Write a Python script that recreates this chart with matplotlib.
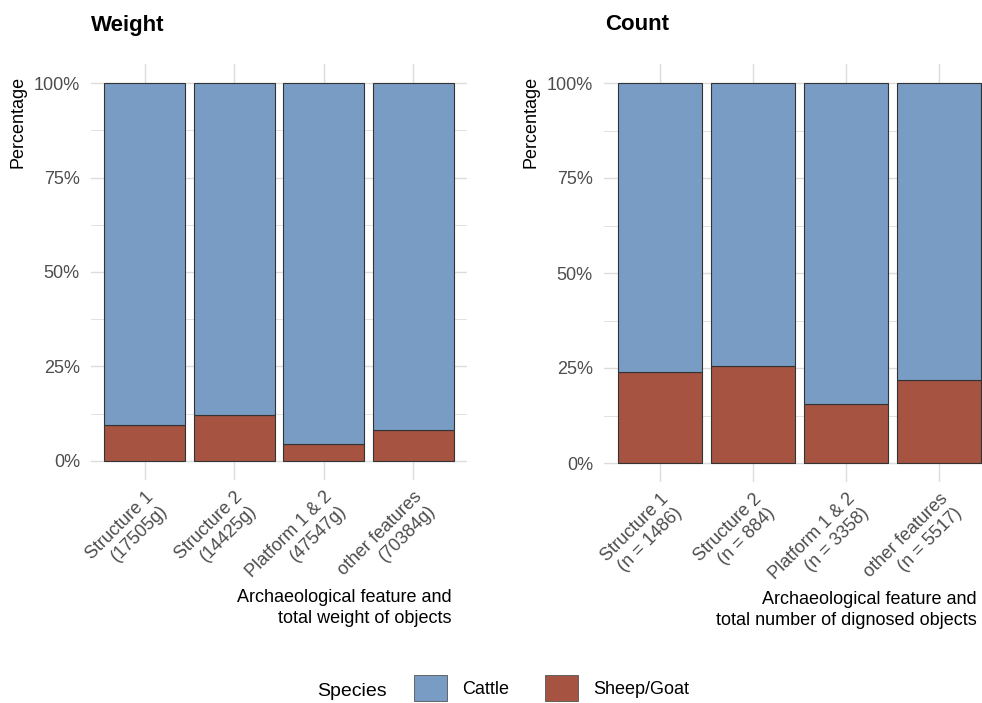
import numpy as np
import matplotlib.pyplot as plt
from matplotlib.patches import Patch

plt.rcParams['font.family'] = ['Liberation Sans Narrow', 'Liberation Sans', 'DejaVu Sans']

features = ['Structure 1', 'Structure 2', 'Platform 1 & 2', 'other features']
weights_g = [17505, 14425, 47547, 70384]
counts_n = [1486, 884, 3358, 5517]

# share of each species (%), weight of bones and number of identified bones
weight_sheep = [9.5, 12.2, 4.4, 8.1]
weight_cattle = [90.5, 87.8, 95.6, 91.9]
count_sheep = [24.0, 25.6, 15.5, 21.9]
count_cattle = [76.0, 74.4, 84.5, 78.1]

species = ['Cattle', 'Sheep/Goat']
colors = {'Cattle': '#789CC3', 'Sheep/Goat': '#A65341'}
edge = '#333333'
grid_col = '#DCDCDC'
tick_col = '#4D4D4D'

W, H = 982, 703
fig = plt.figure(figsize=(W / 100, H / 100), dpi=100)


def fx(px):
    return px / W


def fy(py):
    return 1 - py / H


def panel(x0, x1, y_zero, y_full):
    unit = y_zero - y_full
    top = y_full - 0.05 * unit
    bot = y_zero + 0.05 * unit
    return fig.add_axes([fx(x0), fy(bot), fx(x1) - fx(x0), fy(top) - fy(bot)])


def draw(ax, sheep, cattle, labels):
    x = np.arange(1, len(features) + 1)
    ax.bar(x, sheep, width=0.9, color=colors['Sheep/Goat'], edgecolor=edge, linewidth=0.8, zorder=3)
    ax.bar(x, cattle, width=0.9, bottom=sheep, color=colors['Cattle'], edgecolor=edge, linewidth=0.8, zorder=3)
    ax.set_xlim(0.4, len(features) + 0.6)
    ax.set_ylim(-5, 105)
    ax.set_yticks([0, 25, 50, 75, 100])
    ax.set_yticklabels(['0%', '25%', '50%', '75%', '100%'])
    ax.set_yticks([12.5, 37.5, 62.5, 87.5], minor=True)
    ax.set_xticks(x)
    ax.set_xticklabels(labels, rotation=45, ha='right', va='top', rotation_mode='anchor',
                       multialignment='right')
    ax.tick_params(axis='both', which='both', length=0, labelsize=13, labelcolor=tick_col)
    ax.tick_params(axis='y', pad=8)
    ax.tick_params(axis='x', pad=6)
    ax.grid(True, which='major', color=grid_col, linewidth=1.0, zorder=0)
    ax.grid(True, which='minor', axis='y', color=grid_col, linewidth=0.6, zorder=0)
    for s in ax.spines.values():
        s.set_visible(False)


ax1 = panel(91, 467, 461, 83)
draw(ax1, weight_sheep, weight_cattle,
     [f'{f}\n({w}g)' for f, w in zip(features, weights_g)])

ax2 = panel(604, 995, 463, 83)
draw(ax2, count_sheep, count_cattle,
     [f'{f}\n(n = {n})' for f, n in zip(features, counts_n)])

# panel titles
fig.text(fx(91), fy(25), 'Weight', fontsize=16, fontweight='bold', va='center', ha='left')
fig.text(fx(605), fy(25), 'Count', fontsize=16, fontweight='bold', va='center', ha='left')

# y axis titles sit at the top of each panel
fig.text(fx(18), fy(76), 'Percentage', rotation=90, fontsize=13, ha='center', va='top')
fig.text(fx(531), fy(76), 'Percentage', rotation=90, fontsize=13, ha='center', va='top')

# x axis titles
fig.text(fx(452), fy(608), 'Archaeological feature and\ntotal weight of objects',
         fontsize=13, ha='right', va='center', multialignment='right', linespacing=1.25)
fig.text(fx(977), fy(610), 'Archaeological feature and\ntotal number of dignosed objects',
         fontsize=13, ha='right', va='center', multialignment='right', linespacing=1.25)

# legend along the bottom
fig.text(fx(317), fy(691), 'Species', fontsize=14, ha='left', va='center')
handles = [Patch(facecolor=colors[s], edgecolor='#555555', linewidth=0.6) for s in species]
fig.legend(handles, species, ncol=2, loc='upper left', bbox_to_anchor=(fx(405), fy(666)),
           frameon=False, fontsize=13, handlelength=1.85, handleheight=1.85,
           handletextpad=0.8, columnspacing=2.0, borderaxespad=0, borderpad=0.5)

fig.savefig('out.png', dpi=100)
